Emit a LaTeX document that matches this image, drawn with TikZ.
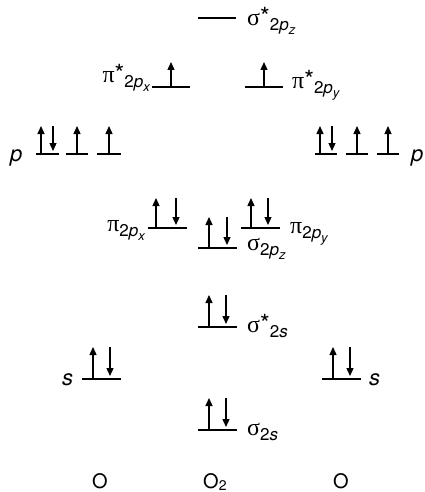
\documentclass[tikz,border=0pt]{standalone}
\usepackage{fontspec}
\setmainfont{TeX Gyre Heros}
\newfontfamily\grk{Liberation Serif}
\usetikzlibrary{arrows.meta}
\newcommand\gk[1]{{\fontsize{24}{24}\selectfont\grk #1}}
\newcommand\mystar{{\fontsize{25}{25}\selectfont *}}
\newcommand\sbs[1]{\raisebox{-5pt}{\fontsize{17}{17}\selectfont #1}}
\newcommand\ssb[1]{\raisebox{-4pt}{\fontsize{13}{13}\selectfont\itshape #1}}
\newcommand\upa[3]{\draw[arr] (#1,#2) -- (#1,#2-#3);}
\newcommand\dna[3]{\draw[arr] (#1,#2-#3) -- (#1,#2-3);}
\begin{document}
\begin{tikzpicture}[x=1pt,y=-1pt,
  level/.style={line width=1.3pt},
  arr/.style={line width=1.3pt,-{Triangle[length=8pt,width=7pt]}},
  lab/.style={inner sep=0pt,font=\fontsize{22}{22}\selectfont},
  atom/.style={inner sep=0pt,font=\fontsize{20}{20}\selectfont}]
\useasboundingbox (0,0) rectangle (425,492);
% sigma* 2pz
\draw[level] (198,18) -- (236,18);
\node[lab,anchor=base west] (ls2pzs) at (247,26) {\gk{σ}\mystar\sbs{2\textit{p}\ssb{z}}};
% pi* 2p
\draw[level] (152,87) -- (190,87); \upa{171}{87}{25}
\draw[level] (245,87) -- (283,87); \upa{264}{87}{25}
\node[lab,anchor=base east] (lp2pxs) at (150,83) {\gk{π}\mystar\sbs{2\textit{p}\ssb{x}}};
\node[lab,anchor=base west] (lp2pys) at (292,89) {\gk{π}\mystar\sbs{2\textit{p}\ssb{y}}};
% atomic p left
\draw[level] (36,154) -- (59,154); \upa{41}{154}{28} \dna{53}{154}{28}
\draw[level] (66,154) -- (88,154); \upa{77}{154}{28}
\draw[level] (97,154) -- (121,154); \upa{109}{154}{28}
\node[lab,anchor=base west] (lpl) at (10,161) {\itshape p};
% atomic p right
\draw[level] (315,154) -- (337,154); \upa{320}{154}{28} \dna{332}{154}{28}
\draw[level] (346,154) -- (368,154); \upa{357}{154}{28}
\draw[level] (377,154) -- (399,154); \upa{388}{154}{28}
\node[lab,anchor=base west] (lpr) at (411,161) {\itshape p};
% pi 2p
\draw[level] (148,228) -- (187,228); \upa{156}{228}{30} \dna{176}{228}{30}
\draw[level] (241,228) -- (280,228); \upa{251}{228}{30} \dna{268}{228}{30}
\node[lab,anchor=base east] (lp2px) at (145,231) {\gk{π}\sbs{2\textit{p}\ssb{x}}};
\node[lab,anchor=base west] (lp2py) at (290,233) {\gk{π}\sbs{2\textit{p}\ssb{y}}};
% sigma 2pz
\draw[level] (198,248) -- (237,248); \upa{209}{248}{31} \dna{227}{248}{31}
\node[lab,anchor=base west] (ls2pz) at (247,250) {\gk{σ}\sbs{2\textit{p}\ssb{z}}};
% sigma* 2s
\draw[level] (198,327) -- (237,327); \upa{209}{327}{32} \dna{226}{327}{32}
\node[lab,anchor=base west] (ls2ss) at (247,332) {\gk{σ}\mystar\sbs{2\textit{s}}};
% atomic s
\draw[level] (82,379) -- (121,379); \upa{93}{379}{32} \dna{110}{379}{32}
\node[lab,anchor=base west] (lsl) at (62,385) {\itshape s};
\draw[level] (322,379) -- (361,379); \upa{333}{379}{32} \dna{350}{379}{32}
\node[lab,anchor=base west] (lsr) at (369,385) {\itshape s};
% sigma 2s
\draw[level] (198,430) -- (237,430); \upa{209}{430}{32} \dna{226}{430}{32}
\node[lab,anchor=base west] (ls2s) at (247,435) {\gk{σ}\sbs{2\textit{s}}};
% bottom labels
\node[atom,anchor=base] (oa) at (100,488) {O};
\node[atom,anchor=base west] (o2) at (203,488) {O\raisebox{-2pt}{\fontsize{14}{14}\selectfont 2}};
\node[atom,anchor=base] (ob) at (341,488) {O};
\end{tikzpicture}
\end{document}
